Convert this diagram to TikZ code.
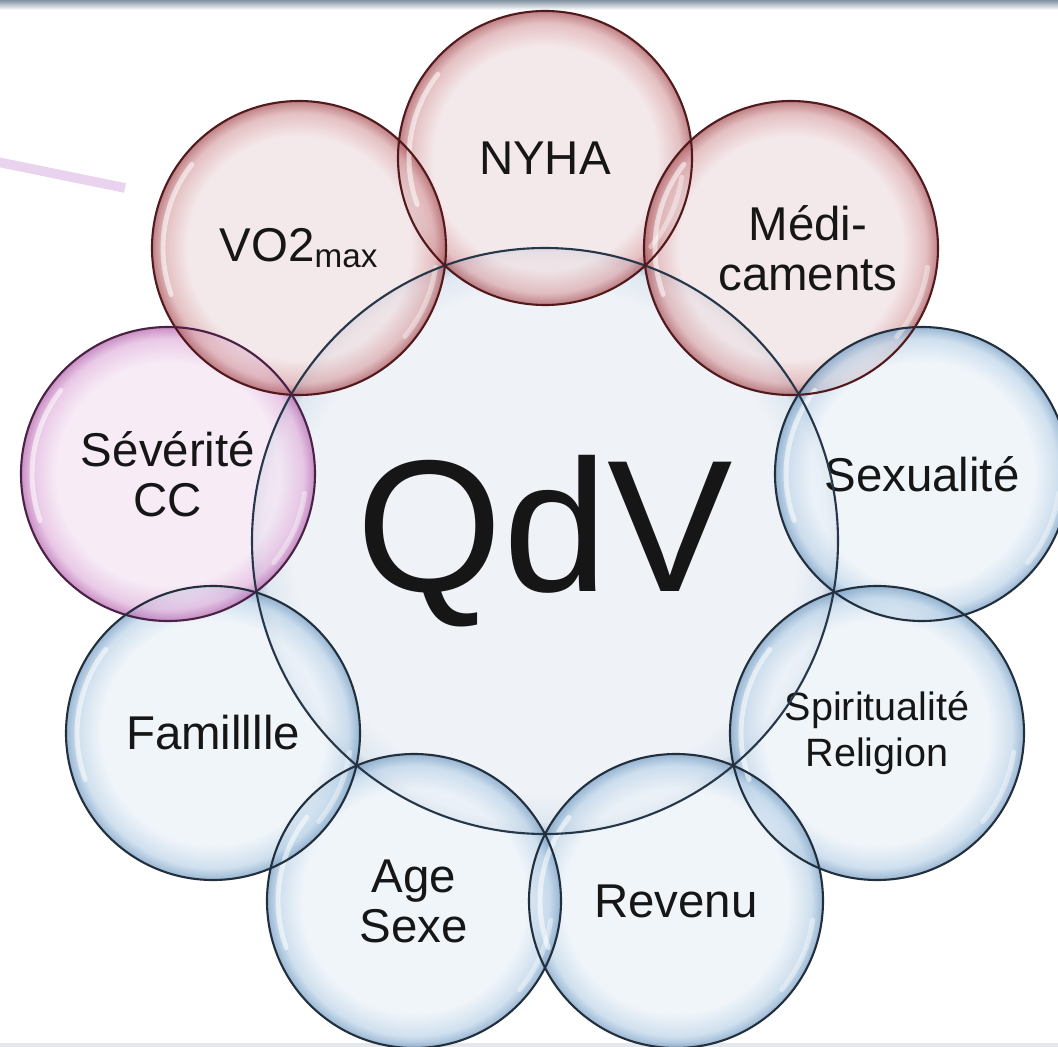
\documentclass[tikz,border=0pt]{standalone}
\usepackage{fontspec}
\setmainfont{Liberation Sans}
\usepackage{xcolor}
\usepackage{tikz}
\usetikzlibrary{positioning,calc}
\definecolor{ink}{HTML}{161616}
\definecolor{redfill}{HTML}{F2E3E5}
\definecolor{redrim}{HTML}{DDAEB1}
\definecolor{reddeep}{HTML}{AE5E63}
\definecolor{rededge}{HTML}{521A1C}
\definecolor{bluefill}{HTML}{EDF3F9}
\definecolor{bluerim}{HTML}{C3D8EB}
\definecolor{bluedeep}{HTML}{7FA4C8}
\definecolor{blueedge}{HTML}{22303E}
\definecolor{purfill}{HTML}{F5E6F4}
\definecolor{purrim}{HTML}{E4BAE0}
\definecolor{purdeep}{HTML}{BB70B4}
\definecolor{puredge}{HTML}{4A2246}
\definecolor{corefill}{HTML}{EEF2F8}
\definecolor{corerim}{HTML}{DCE5EF}
\definecolor{coredeep}{HTML}{A7BBD0}
\definecolor{coreedge}{HTML}{27374A}
\definecolor{bandtop}{HTML}{8391A3}
\definecolor{lilac}{HTML}{EAD3EE}
\definecolor{footband}{HTML}{E4E7EB}
% the circle edge sits at 25bp of the shading
\pgfdeclareradialshading{bubblered}{\pgfpointorigin}{color(0bp)=(redfill); color(19bp)=(redfill); color(23bp)=(redrim); color(25bp)=(reddeep); color(50bp)=(reddeep)}
\pgfdeclareradialshading{bubbleblue}{\pgfpointorigin}{color(0bp)=(bluefill); color(19bp)=(bluefill); color(23bp)=(bluerim); color(25bp)=(bluedeep); color(50bp)=(bluedeep)}
\pgfdeclareradialshading{bubblepur}{\pgfpointorigin}{color(0bp)=(purfill); color(19bp)=(purfill); color(23bp)=(purrim); color(25bp)=(purdeep); color(50bp)=(purdeep)}
\pgfdeclareradialshading{bubblecore}{\pgfpointorigin}{color(0bp)=(corefill); color(21.5bp)=(corefill); color(24bp)=(corerim); color(25bp)=(coredeep); color(50bp)=(coredeep)}

\begin{document}
\begin{tikzpicture}[
  x=0.02cm, y=-0.02cm,
  font=\fontsize{27}{28.5}\selectfont,
  bubble/.style={circle,inner sep=0pt,minimum size=5.88cm,shade,fill opacity=0.78,text opacity=1,text=ink,align=center},
  redb/.style={bubble,shading=bubblered},
  blueb/.style={bubble,shading=bubbleblue},
  purb/.style={bubble,shading=bubblepur},
  core/.style={circle,inner sep=0pt,minimum size=11.72cm,shade,shading=bubblecore,fill opacity=0.9,text opacity=1,text=ink,font=\fontsize{107}{107}\selectfont},
  rim/.style={line width=1.2pt},
  glint/.style={white,line width=2.8pt,line cap=round,opacity=0.55}
]
\useasboundingbox (0,0) rectangle (1058,1047);
\fill[white] (0,0) rectangle (1058,1047);
\shade[top color=bandtop,bottom color=white] (0,0) rectangle (1058,10);
\fill[footband] (0,1043) rectangle (1058,1047);
% stray stroke top left
\coordinate (lilacA) at (-2,162);
\coordinate (lilacB) at (125,188);
\draw[lilac,line width=5.5pt] (lilacA) -- (lilacB);
% centre and ring of bubbles
\node[core] (qdv) at (545,541) {QdV};
\node[redb] (nyha) at (545,158) {NYHA};
\node[redb] (medic) at (791,248) {\hspace*{0.68cm}Médi-\\\hspace*{0.68cm}caments};
\node[blueb] (sexe) at (922,474) {Sexualité};
\node[blueb,font=\fontsize{22.5}{26.5}\selectfont] (spirit) at (877,733) {Spiritualité\\Religion};
\node[blueb] (revenu) at (676,901) {Revenu};
\node[blueb] (age) at (414,901) {Age\\Sexe};
\node[blueb] (famille) at (213,733) {Familllle};
\node[purb] (sev) at (168,474) {Sévérité\\CC};
\node[redb] (vo) at (299,248) {VO2\textsubscript{max}};
% glass highlights
\foreach \n in {nyha,medic,sexe,spirit,revenu,age,famille,sev,vo}{
  \draw[glint] ($(\n.center)+(160:136)$) arc[start angle=160,end angle=218,radius=136];
  \draw[glint,opacity=0.4] ($(\n.center)+(8:138)$) arc[start angle=8,end angle=40,radius=138];
}
% outlines on top
\foreach \n/\c/\r in {qdv/coreedge/293,nyha/rededge/147,medic/rededge/147,vo/rededge/147,sev/puredge/147,sexe/blueedge/147,spirit/blueedge/147,revenu/blueedge/147,age/blueedge/147,famille/blueedge/147}
  \draw[rim,\c] (\n.center) circle[radius=\r];
\end{tikzpicture}
\end{document}
